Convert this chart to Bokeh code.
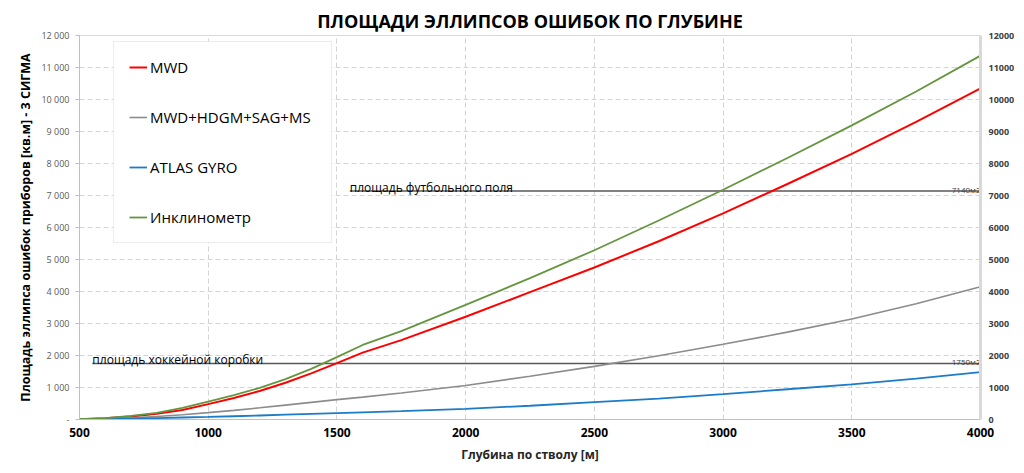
from bokeh.plotting import figure
from bokeh.models import Range1d, LinearAxis, FixedTicker, Legend, LegendItem
from bokeh.core.properties import value
from bokeh.embed import file_html
from bokeh.resources import INLINE

# ---- data ----
depth = [500, 600, 700, 800, 900, 1000, 1100, 1200, 1300, 1400, 1500, 1600,
         1750, 2000, 2250, 2500, 2750, 3000, 3250, 3500, 3750, 4000]
mwd = [10, 40, 95, 180, 300, 480, 670, 890, 1150, 1440, 1760, 2090,
       2480, 3210, 3980, 4750, 5570, 6440, 7360, 8300, 9300, 10350]
mwd_hdgm = [5, 20, 50, 95, 150, 215, 285, 365, 450, 535, 620, 700,
            830, 1065, 1350, 1660, 1990, 2350, 2730, 3140, 3620, 4150]
atlas_gyro = [2, 12, 28, 45, 62, 80, 102, 125, 150, 173, 197, 222,
              262, 335, 430, 540, 655, 790, 945, 1100, 1280, 1480]
inclinometer = [10, 45, 110, 210, 360, 560, 760, 990, 1260, 1580, 1950, 2330,
                2760, 3580, 4420, 5290, 6220, 7180, 8170, 9190, 10250, 11370]

series_names = ["MWD", "MWD+HDGM+SAG+MS", "ATLAS GYRO", "Инклинометр"]
series_colors = ["#ff0000", "#8c8c8c", "#1c7cc8", "#65963f"]

ref_names = ["площадь хоккейной коробки", "площадь футбольного поля"]
ref_values = [1750, 7140]
ref_start = [550, 1550]
ref_tags = ["1750м2", "7140м2"]

x_ticks = [500, 1000, 1500, 2000, 2500, 3000, 3500, 4000]
y_ticks = [0, 1000, 2000, 3000, 4000, 5000, 6000, 7000, 8000, 9000, 10000, 11000, 12000]
left_labels = ["-", "1 000", "2 000", "3 000", "4 000", "5 000", "6 000", "7 000",
               "8 000", "9 000", "10 000", "11 000", "12 000"]

x_min, x_max = 500, 4000
y_min, y_max = 0, 12000

title_text = "ПЛОЩАДИ ЭЛЛИПСОВ ОШИБОК ПО ГЛУБИНЕ"
x_label = "Глубина по стволу [м]"
y_label = "Площадь эллипса ошибок приборов [кв.м] - 3 СИГМА"

FONT = "Open Sans"

p = figure(width=1024, height=473, x_range=Range1d(x_min, x_max), y_range=Range1d(y_min, y_max),
           output_backend="svg", toolbar_location=None,
           min_border_left=79, min_border_right=44, min_border_top=35, min_border_bottom=54)

p.background_fill_color = "white"
p.border_fill_color = "white"
p.outline_line_color = "#d9d9d9"
p.outline_line_width = 1

p.title.text = title_text
p.title.align = "center"
p.title.text_font = FONT
p.title.text_font_size = "18px"
p.title.text_font_style = "bold"
p.title.text_color = "black"
p.title.standoff = 6

# grids
p.xgrid.ticker = FixedTicker(ticks=x_ticks)
p.ygrid.ticker = FixedTicker(ticks=y_ticks)
for g in (p.xgrid[0], p.ygrid[0]):
    g.grid_line_color = "#d4d4d4"
    g.grid_line_dash = "5 3"
    g.grid_line_width = 1

# x axis
xa = p.below[0]
xa.ticker = FixedTicker(ticks=x_ticks)
xa.axis_label = x_label
xa.axis_label_text_font = FONT
xa.axis_label_text_font_size = "12px"
xa.axis_label_text_font_style = "bold"
xa.axis_label_text_color = "#262626"
xa.axis_label_standoff = 6
xa.major_label_text_font = FONT
xa.major_label_text_font_size = "12px"
xa.major_label_text_font_style = "bold"
xa.major_label_text_color = "black"
xa.major_label_standoff = 8
xa.major_tick_out = 0
xa.major_tick_in = 0
xa.minor_tick_out = 0
xa.minor_tick_in = 0
xa.axis_line_color = "#bfbfbf"

# left axis
ya = p.left[0]
ya.ticker = FixedTicker(ticks=y_ticks)
ya.major_label_overrides = {t: lab for t, lab in zip(y_ticks, left_labels)}
ya.axis_label = y_label
ya.axis_label_text_font = FONT
ya.axis_label_text_font_size = "12.5px"
ya.axis_label_text_font_style = "bold"
ya.axis_label_text_color = "black"
ya.axis_label_standoff = 4
ya.major_label_text_font = FONT
ya.major_label_text_font_size = "9px"
ya.major_label_text_color = "#595959"
ya.major_label_standoff = 6
ya.major_tick_out = 4
ya.major_tick_in = 0
ya.minor_tick_out = 0
ya.minor_tick_in = 0
ya.major_tick_line_color = "#bfbfbf"
ya.axis_line_color = "#bfbfbf"

# right axis
ra = LinearAxis(ticker=FixedTicker(ticks=y_ticks))
ra.major_label_text_font = FONT
ra.major_label_text_font_size = "9px"
ra.major_label_text_font_style = "bold"
ra.major_label_text_color = "#404040"
ra.major_label_standoff = 8
ra.major_tick_out = 0
ra.major_tick_in = 0
ra.minor_tick_out = 0
ra.minor_tick_in = 0
ra.axis_line_color = "#d9d9d9"
ra.axis_line_width = 3
p.add_layout(ra, "right")

# reference lines
p.segment(x0=ref_start, y0=ref_values, x1=[x_max] * len(ref_values), y1=ref_values,
          line_color="#595959", line_width=1.5)
p.text(x=ref_start, y=ref_values, text=ref_names, text_font=value(FONT),
       text_font_size="12px", text_color="black", text_baseline="alphabetic", y_offset=-4)
p.text(x=[x_max] * len(ref_values), y=ref_values, text=ref_tags, text_font=value(FONT),
       text_font_size="8px", text_color="#404040", text_align="right",
       text_baseline="alphabetic", y_offset=-2)

# series
data = [mwd, mwd_hdgm, atlas_gyro, inclinometer]
widths = [2, 1.6, 1.8, 1.8]
renderers = []
for vals, col, w in zip(data, series_colors, widths):
    renderers.append(p.line(depth, vals, line_color=col, line_width=w))

legend = Legend(items=[LegendItem(label=n, renderers=[r]) for n, r in zip(series_names, renderers)],
                location=(34, 176))
legend.padding = 15
legend.spacing = 30
legend.label_height = 20
legend.glyph_height = 20
legend.glyph_width = 18
legend.label_width = 166
legend.label_standoff = 3
legend.margin = 0
legend.label_text_font = FONT
legend.label_text_font_size = "15px"
legend.label_text_color = "black"
legend.border_line_color = "#d9d9d9"
legend.border_line_width = 1
legend.background_fill_color = "white"
legend.background_fill_alpha = 1
p.add_layout(legend)

open("out.html", "w").write(file_html(p, INLINE))
